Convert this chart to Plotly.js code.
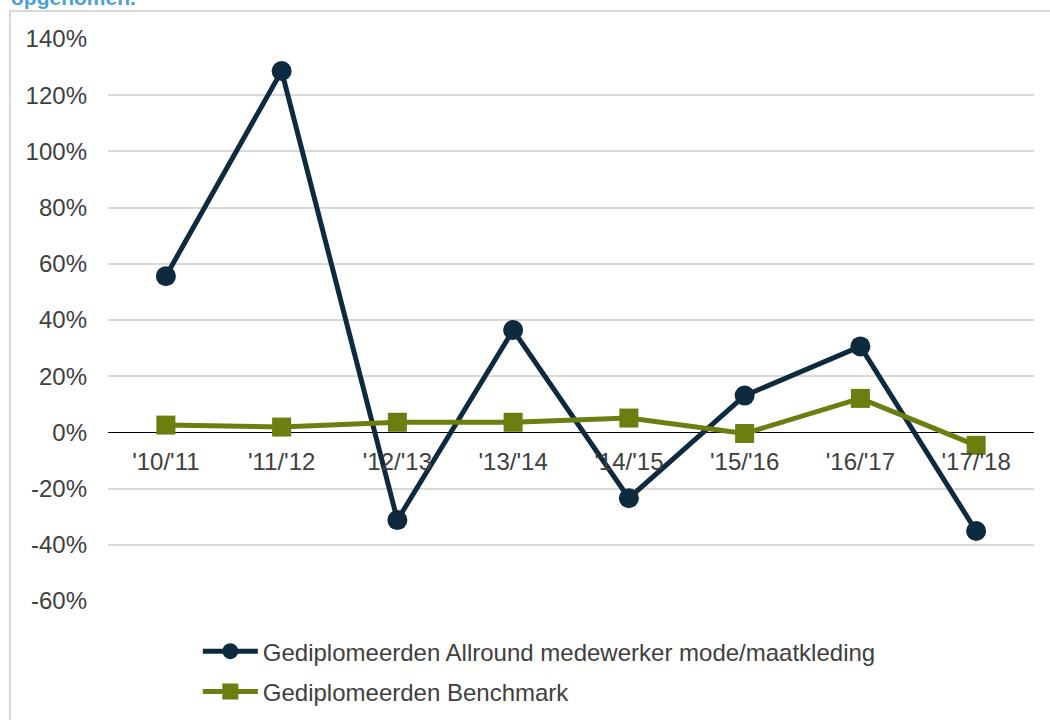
<!DOCTYPE html>
<html>
<head>
<meta charset="utf-8">
<script src="https://cdn.plot.ly/plotly-3.0.1.min.js"></script>
<style>
  body { margin: 0; padding: 0; background: #ffffff; overflow: hidden; }
  #frame { position: absolute; left: 9px; top: 10px; width: 1060px; height: 740px; border: 2px solid #d9d9d9; box-sizing: border-box; }
  #chart { position: absolute; left: 0; top: 0; width: 1050px; height: 720px; }
</style>
</head>
<body>
<div id="frame"></div>
<div id="chart"></div>
<script>
const categories = ["'10/'11", "'11/'12", "'12/'13", "'13/'14", "'14/'15", "'15/'16", "'16/'17", "'17/'18"];
const seriesAllround = [55.6, 128.6, -31.2, 36.4, -23.4, 13.1, 30.6, -35.1];
const seriesBenchmark = [2.6, 1.9, 3.6, 3.6, 5.1, -0.4, 12.1, -4.6];
const seriesNames = ["Gediplomeerden Allround medewerker mode/maatkleding", "Gediplomeerden Benchmark"];
const yTickValues = [-60, -40, -20, 0, 20, 40, 60, 80, 100, 120, 140];
const yTickLabels = ["-60%", "-40%", "-20%", "0%", "20%", "40%", "60%", "80%", "100%", "120%", "140%"];
const titleText = "opgenomen.";

const fontFam = "Liberation Sans, Arial, sans-serif";
const textColor = "#404040";
const fs = 24;

const traces = [
  {
    x: categories, y: seriesAllround, name: seriesNames[0], type: 'scatter', mode: 'lines+markers',
    line: { color: '#0d2a3e', width: 5 },
    marker: { color: '#0d2a3e', size: 20, symbol: 'circle' },
    legendgroup: 'a'
  },
  {
    x: categories, y: seriesBenchmark, name: seriesNames[1], type: 'scatter', mode: 'lines+markers',
    line: { color: '#6a7f10', width: 5 },
    marker: { color: '#6a7f10', size: 19, symbol: 'square' },
    legendgroup: 'b'
  }
];

const layout = {
  width: 1050, height: 720,
  margin: { l: 108, r: 16, t: 39, b: 119, autoexpand: false },
  paper_bgcolor: 'rgba(0,0,0,0)',
  plot_bgcolor: 'rgba(0,0,0,0)',
  font: { family: fontFam, size: fs, color: textColor },
  showlegend: true,
  legend: {
    x: 0.097, xanchor: 'left', y: -0.050, yanchor: 'top',
    orientation: 'v', traceorder: 'grouped', tracegroupgap: 6,
    itemwidth: 55,
    font: { family: fontFam, size: fs, color: textColor },
    bgcolor: 'rgba(0,0,0,0)'
  },
  xaxis: {
    type: 'category', range: [-0.5, 7.5],
    anchor: 'free', position: 0.3,
    showline: false, showgrid: false, zeroline: false,
    ticks: '', ticklabelstandoff: 13,
    tickfont: { family: fontFam, size: fs, color: textColor },
    fixedrange: true
  },
  yaxis: {
    range: [-60, 140], tickmode: 'array', tickvals: yTickValues, ticktext: yTickLabels,
    showgrid: true, gridcolor: '#d9d9d9', gridwidth: 2,
    zeroline: true, zerolinecolor: '#000000', zerolinewidth: 1,
    showline: false, ticks: '', ticklabelstandoff: 20,
    tickfont: { family: fontFam, size: fs, color: textColor },
    fixedrange: true
  },
  annotations: [
    {
      text: '<b>' + titleText + '</b>', xref: 'paper', yref: 'paper',
      x: -0.1069, xanchor: 'left', y: 1.073, yanchor: 'middle', showarrow: false,
      font: { family: fontFam, size: 21, color: '#4a9fd9' }
    }
  ]
};

Plotly.newPlot('chart', traces, layout, { displayModeBar: false, staticPlot: true });
</script>
</body>
</html>
